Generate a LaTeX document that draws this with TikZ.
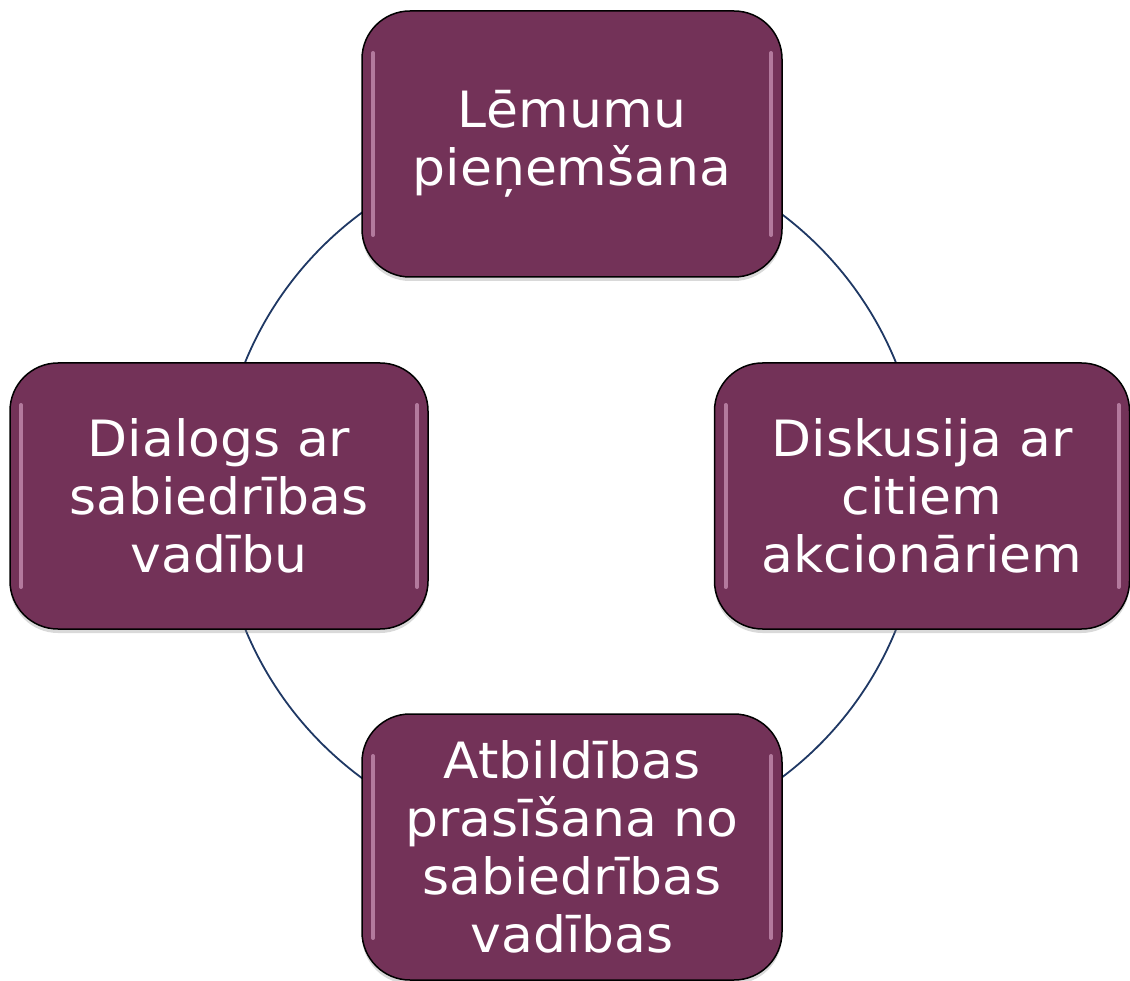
\documentclass[tikz,border=0pt]{standalone}
\usepackage{fontspec}
\setmainfont{DejaVu Sans}[FakeStretch=1.04]
\usetikzlibrary{shadows,backgrounds}
\definecolor{plum}{RGB}{115,50,88}
\definecolor{ringblue}{RGB}{31,56,100}
\definecolor{gloss}{RGB}{222,170,204}

\begin{document}
\begin{tikzpicture}[x=1pt,y=1pt,
    box/.style={draw=black, line width=1.5pt, fill=plum, rounded corners=48pt,
      minimum width=420pt, minimum height=266pt, text=white, align=center,
      font=\fontsize{50}{58}\selectfont,
      drop shadow={opacity=0.3, shadow xshift=0pt, shadow yshift=-4pt},
      path picture={
        \draw[gloss, line width=4pt, opacity=0.6, line cap=round]
          ([xshift=11pt,yshift=-42pt]path picture bounding box.north west)
            -- ([xshift=11pt,yshift=42pt]path picture bounding box.south west)
          ([xshift=-11pt,yshift=-42pt]path picture bounding box.north east)
            -- ([xshift=-11pt,yshift=42pt]path picture bounding box.south east);
      }},
    ring/.style={draw=ringblue, line width=1.8pt}]
  \useasboundingbox (0,0) rectangle (1130,-981);
  \node[box] (decide) at (572,-144) {Lēmumu\\pieņemšana};
  \node[box, minimum width=415pt] (discuss) at (922,-496) {Diskusija ar\\citiem\\akcionāriem};
  \node[box] (account) at (572,-847) {Atbildības\\prasīšana no\\sabiedrības\\vadības};
  \node[box, minimum width=418pt] (dialog) at (219,-496) {Dialogs ar\\sabiedrības\\vadību};
  \begin{scope}[on background layer]
    \draw[ring] (decide.center) to[out=0,in=90] (discuss.center)
      to[out=-90,in=0] (account.center)
      to[out=180,in=-90] (dialog.center)
      to[out=90,in=180] (decide.center);
  \end{scope}
\end{tikzpicture}
\end{document}
